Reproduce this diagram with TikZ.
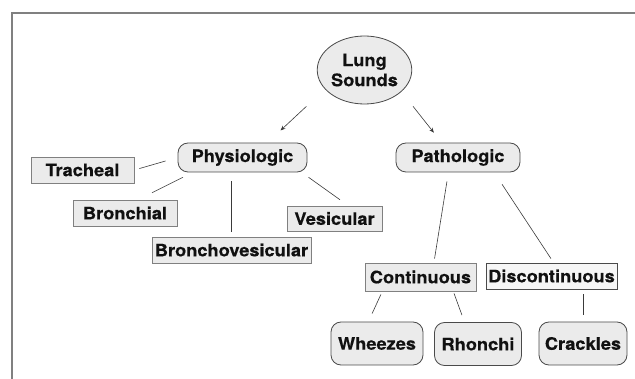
\documentclass[tikz,border=0pt]{standalone}
\usepackage{fontspec}
\setmainfont{TeX Gyre Heros}[BoldFeatures={FakeBold=0.4,FakeStretch=1.06}]
\usetikzlibrary{shapes.geometric,arrows.meta}
\definecolor{boxfill}{HTML}{EBEBEB}
\definecolor{lightfill}{HTML}{F6F6F6}
\definecolor{edgedark}{HTML}{4A4A4A}
\definecolor{edgemid}{HTML}{808080}
\definecolor{linecol}{HTML}{3A3A3A}
\definecolor{txt}{HTML}{111111}
\tikzset{
  base/.style={inner sep=0pt, text=txt, font=\fontsize{17.2}{20}\selectfont\bfseries, line width=0.8pt},
  roundbox/.style={base, draw=edgedark, fill=boxfill, rounded corners=10pt},
  sqbox/.style={base, draw=edgemid, fill=boxfill, minimum height=26pt},
  sqdark/.style={base, draw=edgedark, fill=lightfill, minimum height=26pt},
  conn/.style={draw=linecol, line width=0.6pt},
  arr/.style={conn, -{Stealth[length=5pt,width=4pt]}},
  frameline/.style={draw=edgemid, line width=1.6pt}
}
\begin{document}
\begin{tikzpicture}[x=1pt,y=-1pt]
\useasboundingbox (0,0) rectangle (635,379);
\draw[frameline] (12,379) -- (12,13.3) -- (635,13.3);

\node[base, ellipse, draw=edgedark, fill=boxfill, minimum width=89pt, minimum height=68pt, align=center] (ls) at (364.5,70) {Lung\\Sounds};

\node[roundbox, minimum width=129pt, minimum height=29pt] (ph) at (242.5,157.5) {Physiologic};
\node[roundbox, minimum width=124pt, minimum height=29pt] (pa) at (458,157.5) {Pathologic};

\node[sqbox, minimum width=103pt] (tr) at (82.5,170) {Tracheal};
\node[sqbox, minimum width=104pt] (br) at (125,213) {Bronchial};
\node[sqbox, minimum width=159pt] (bv) at (231.5,250) {Bronchovesicular};
\node[sqbox, minimum width=95pt, minimum height=25pt] (ve) at (334.5,218.5) {Vesicular};

\node[sqbox, minimum width=111pt, minimum height=28pt] (co) at (420.5,277) {Continuous};
\node[sqdark, minimum width=131pt] (di) at (551.5,276) {Discontinuous};

\node[roundbox, minimum width=92pt, minimum height=43pt] (wh) at (377,343.5) {Wheezes};
\node[roundbox, minimum width=87pt, minimum height=43pt] (rh) at (478,344) {Rhonchi};
\node[roundbox, minimum width=88pt, minimum height=43pt] (cr) at (583,343.5) {Crackles};

% arrows from root
\draw[arr, shorten <=2.9pt, shorten >=17.8pt] ([xshift=-56pt]ls.south) -- ([xshift=25pt]ph.north);
\draw[arr, shorten <=2.5pt, shorten >=12.6pt] ([xshift=47pt]ls.south) -- ([xshift=-16.3pt]pa.north);

% physiologic branches
\draw[conn, shorten <=5.2pt, shorten >=12.5pt] (tr.east) -- (ph.west);
\draw[conn, shorten <=15.3pt, shorten >=10.9pt] ([xshift=13.4pt]br.north) -- ([xshift=-49.8pt]ph.south);
\draw[conn, shorten <=9pt, shorten >=5pt] ([xshift=-11pt]ph.south) -- (bv.north);
\draw[conn, shorten <=8.4pt, shorten >=10.2pt] ([xshift=59.2pt]ph.south) -- ([xshift=13.7pt]ve.north);

% pathologic branches
\draw[conn, shorten <=9.1pt, shorten >=4pt] ([xshift=-9.6pt]pa.south) -- ([xshift=13.4pt]co.north);
\draw[conn, shorten <=14.3pt, shorten >=4.8pt] ([xshift=36.2pt]pa.south) -- ([xshift=2.1pt]di.north);

% lower branches
\draw[conn, shorten <=3.3pt, shorten >=8.8pt] ([xshift=-38.2pt]co.south) -- ([xshift=-8.6pt]wh.north);
\draw[conn, shorten <=2.1pt, shorten >=7.4pt] ([xshift=32.8pt]co.south) -- ([xshift=-13.5pt]rh.north);
\draw[conn, shorten <=5pt, shorten >=7pt] ([xshift=31.5pt]di.south) -- (cr.north);
\end{tikzpicture}
\end{document}
